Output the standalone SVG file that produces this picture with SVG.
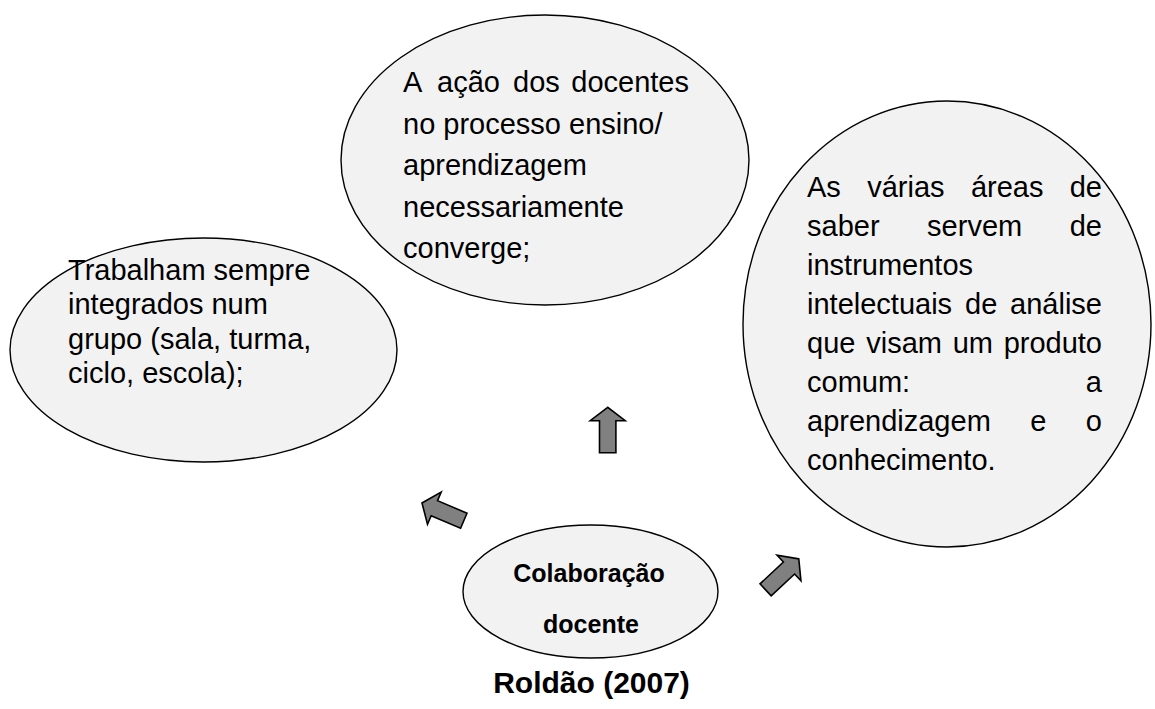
<svg xmlns="http://www.w3.org/2000/svg" width="1155" height="709" viewBox="0 0 1155 709">
<defs>
<style>
.bub{fill:#f2f2f2;stroke:#000;stroke-width:1.4}
.t{font-family:"Liberation Sans",Arial,sans-serif;font-size:29px;fill:#000}
.b{font-family:"Liberation Sans",Arial,sans-serif;font-weight:bold;fill:#000}
.arr{fill:#808080;stroke:#000;stroke-width:1.6;stroke-linejoin:miter}
</style>
<path id="arrow" d="M0,0 L-13.4,-17.5 L-13.4,-8.2 L-45.4,-8.2 L-45.4,8.2 L-13.4,8.2 L-13.4,17.5 Z"/>
</defs>
<rect width="1155" height="709" fill="#fff"/>

<g id="node-left">
<ellipse class="bub" cx="203.5" cy="350" rx="193.5" ry="112"/>
<text class="t"><tspan x="68" y="280">Trabalham sempre</tspan><tspan x="68" y="314">integrados num</tspan><tspan x="68" y="349">grupo (sala, turma,</tspan><tspan x="68" y="383">ciclo, escola);</tspan></text>
</g>

<g id="node-top">
<ellipse class="bub" cx="545" cy="160" rx="204" ry="145"/>
<text class="t"><tspan x="403" y="92">A</tspan><tspan x="437" y="92">ação</tspan><tspan x="513" y="92">dos</tspan><tspan x="689" y="92" text-anchor="end">docentes</tspan></text>
<text class="t"><tspan x="403" y="133.5">no processo ensino/</tspan><tspan x="403" y="175">aprendizagem</tspan><tspan x="403" y="216.5">necessariamente</tspan><tspan x="403" y="258">converge;</tspan></text>
</g>

<g id="node-right">
<ellipse class="bub" cx="947" cy="324" rx="204" ry="223"/>
<text class="t"><tspan x="807" y="197">As</tspan><tspan x="867.2" y="197">várias</tspan><tspan x="970.9" y="197">áreas</tspan><tspan x="1102" y="197" text-anchor="end">de</tspan></text>
<text class="t"><tspan x="807" y="236">saber</tspan><tspan x="927.1" y="236">servem</tspan><tspan x="1102" y="236" text-anchor="end">de</tspan></text>
<text class="t" x="807" y="275">instrumentos</text>
<text class="t"><tspan x="807" y="314">intelectuais</tspan><tspan x="965" y="314">de</tspan><tspan x="1102" y="314" text-anchor="end">análise</tspan></text>
<text class="t"><tspan x="807" y="353">que</tspan><tspan x="866.2" y="353">visam</tspan><tspan x="952.7" y="353">um</tspan><tspan x="1102" y="353" text-anchor="end">produto</tspan></text>
<text class="t"><tspan x="807" y="392">comum:</tspan><tspan x="1102" y="392" text-anchor="end">a</tspan></text>
<text class="t"><tspan x="807" y="431">aprendizagem</tspan><tspan x="1030.2" y="431">e</tspan><tspan x="1102" y="431" text-anchor="end">o</tspan></text>
<text class="t" x="807" y="470">conhecimento.</text>
</g>

<g id="node-center">
<ellipse class="bub" cx="590.5" cy="591.5" rx="127.5" ry="66.5"/>
<text class="b" font-size="25" text-anchor="middle"><tspan x="589" y="582">Colaboração</tspan><tspan x="591" y="633">docente</tspan></text>
</g>

<g id="caption">
<text class="b" font-size="30" text-anchor="middle" x="591.5" y="693">Roldão (2007)</text>
</g>

<g id="connectors">
<use href="#arrow" class="arr" transform="translate(607.7,407.3) rotate(-90)"/>
<use href="#arrow" class="arr" transform="translate(422,503) rotate(203)"/>
<use href="#arrow" class="arr" transform="translate(798.8,558.9) rotate(-43)"/>
</g>
</svg>
